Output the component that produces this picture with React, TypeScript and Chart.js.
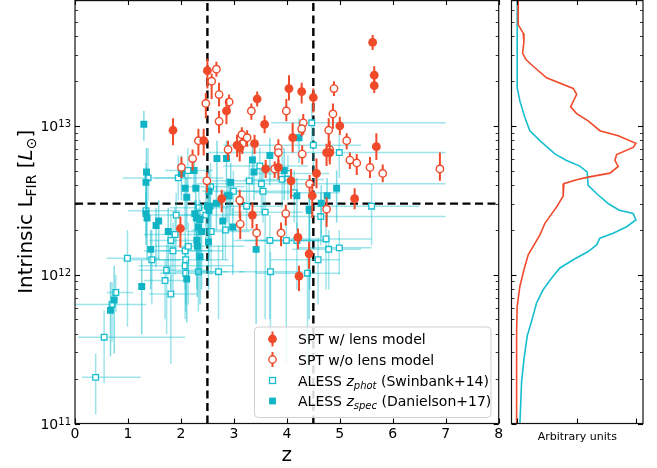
import React, { useEffect, useRef } from 'react';
import { Chart, registerables } from 'chart.js';

Chart.register(...registerables);

// ---------------- data ----------------
const zCuts = [2.5, 4.5];
const lumCut = 3e12;
const xTickValues = [0, 1, 2, 3, 4, 5, 6, 7, 8];
const yDecades = [11, 12, 13];
const sideXTicks = [0, 0.5, 1];

// SPT with lens model (filled red circles), log10 L
const sptLensZ = [2.50, 5.62, 5.65, 5.65, 4.04, 4.28, 1.85, 2.43, 2.86, 3.44, 3.58, 4.50, 5.00, 5.69, 4.11, 4.75, 3.06, 3.11, 3.39, 3.60, 3.84, 4.08, 4.56, 2.77, 5.28, 4.48, 3.35, 1.99, 4.21, 4.42, 4.23, 4.81];
const sptLensLogL = [13.37, 13.56, 13.34, 13.27, 13.25, 13.23, 12.97, 12.90, 13.10, 13.18, 13.01, 13.19, 13.00, 12.86, 12.92, 12.82, 12.87, 12.85, 12.88, 12.71, 12.72, 12.63, 12.68, 12.51, 12.51, 12.53, 12.40, 12.31, 12.25, 12.14, 11.99, 12.82];
const sptLensErrLo = [0.12, 0.05, 0.06, 0.05, 0.08, 0.08, 0.10, 0.10, 0.09, 0.05, 0.06, 0.10, 0.06, 0.09, 0.10, 0.09, 0.08, 0.09, 0.07, 0.06, 0.08, 0.12, 0.10, 0.09, 0.07, 0.15, 0.09, 0.13, 0.08, 0.10, 0.10, 0.08];
const sptLensErrHi = [0.08, 0.05, 0.06, 0.05, 0.09, 0.06, 0.08, 0.08, 0.08, 0.05, 0.06, 0.06, 0.06, 0.09, 0.10, 0.06, 0.07, 0.05, 0.06, 0.06, 0.05, 0.08, 0.10, 0.06, 0.07, 0.08, 0.08, 0.08, 0.06, 0.08, 0.07, 0.05];

// SPT without lens model (open red circles)
const sptNoLensZ = [2.67, 2.58, 4.89, 2.72, 2.91, 2.47, 3.33, 2.72, 3.99, 4.31, 4.28, 4.87, 4.79, 3.15, 3.25, 3.16, 2.33, 2.89, 3.84, 3.84, 4.29, 5.13, 4.81, 5.19, 5.32, 5.57, 5.81, 6.89, 2.22, 2.01, 2.49, 3.77, 3.11, 4.43, 4.75, 3.98, 3.43, 3.89, 3.12];
const sptNoLensLogL = [13.38, 13.30, 13.25, 13.21, 13.16, 13.15, 13.10, 13.03, 13.10, 13.02, 12.98, 13.08, 12.97, 12.94, 12.92, 12.88, 12.90, 12.84, 12.85, 12.82, 12.81, 12.90, 12.84, 12.77, 12.75, 12.72, 12.68, 12.71, 12.78, 12.72, 12.63, 12.71, 12.50, 12.61, 12.44, 12.41, 12.28, 12.28, 12.34];
const sptNoLensErrLo = [0.05, 0.12, 0.05, 0.08, 0.07, 0.10, 0.06, 0.08, 0.07, 0.08, 0.05, 0.10, 0.15, 0.06, 0.06, 0.07, 0.10, 0.07, 0.06, 0.07, 0.07, 0.06, 0.08, 0.06, 0.08, 0.07, 0.06, 0.08, 0.08, 0.07, 0.08, 0.06, 0.12, 0.06, 0.12, 0.08, 0.09, 0.09, 0.10];
const sptNoLensErrHi = [0.05, 0.05, 0.05, 0.08, 0.05, 0.07, 0.05, 0.07, 0.08, 0.06, 0.05, 0.07, 0.08, 0.05, 0.05, 0.06, 0.08, 0.06, 0.06, 0.06, 0.06, 0.05, 0.06, 0.05, 0.06, 0.07, 0.06, 0.11, 0.06, 0.07, 0.06, 0.05, 0.07, 0.06, 0.08, 0.06, 0.06, 0.07, 0.08];

// ALESS z_phot (open cyan squares)
const phZ = [1.38, 1.34, 1.95, 2.13, 1.91, 1.89, 1.81, 1.85, 2.08, 2.14, 2.09, 2.08, 2.09, 1.73, 1.70, 1.81, 2.33, 2.71, 0.99, 0.77, 0.70, 0.55, 0.39, 2.56, 2.47, 2.57, 3.29, 2.99, 3.49, 3.52, 3.55, 3.24, 3.59, 2.84, 3.68, 3.69, 1.45, 4.39, 4.59, 4.79, 4.99, 3.99, 4.19, 4.74, 4.99, 4.02, 3.91, 4.14, 5.60, 4.64, 4.47, 4.50, 2.34];
const phLogL = [12.65, 12.43, 12.65, 12.70, 12.40, 12.27, 12.23, 12.16, 12.16, 12.19, 12.10, 12.06, 12.01, 12.03, 11.96, 11.87, 12.02, 12.02, 12.11, 11.88, 11.80, 11.58, 11.31, 12.59, 12.40, 12.29, 12.63, 12.56, 12.73, 12.61, 12.56, 12.46, 12.42, 12.30, 12.23, 12.02, 12.10, 12.01, 12.10, 12.17, 12.18, 12.23, 12.23, 12.24, 12.82, 12.68, 12.64, 12.55, 12.46, 12.39, 13.02, 12.87, 12.45];
const phZLo = [0.9, 1.0, 1.5, 1.7, 1.4, 1.3, 1.4, 1.3, 1.6, 1.5, 1.5, 1.2, 1.6, 1.2, 1.3, 1.4, 1.9, 2.3, 0.6, 0.6, 0.0, 0.06, 0.13, 2.0, 1.8, 2.1, 2.6, 2.4, 2.8, 2.3, 3.0, 2.7, 3.0, 2.2, 3.0, 3.1, 0.9, 3.4, 3.7, 4.1, 4.2, 3.2, 3.5, 4.0, 2.5, 3.3, 3.2, 3.4, 4.5, 3.9, 3.7, 2.8, 1.8];
const phZHi = [2.2, 2.0, 2.8, 2.6, 2.5, 2.4, 2.3, 2.6, 2.8, 3.2, 2.9, 3.0, 2.7, 2.5, 2.1, 2.3, 2.9, 3.2, 1.6, 1.1, 1.35, 2.08, 1.24, 3.2, 3.5, 3.3, 4.0, 3.6, 4.4, 7.0, 4.1, 3.9, 4.3, 3.5, 4.6, 4.3, 2.0, 5.0, 5.0, 5.4, 5.6, 4.8, 4.8, 5.6, 7.0, 4.8, 4.7, 5.0, 6.5, 7.0, 7.0, 5.4, 2.9];
const phLogLLo = [12.5, 12.25, 12.5, 12.55, 12.2, 12.0, 11.9, 11.85, 11.9, 11.8, 11.75, 11.7, 11.8, 11.6, 11.7, 11.4, 11.75, 11.7, 11.65, 11.75, 11.55, 11.27, 11.06, 12.45, 12.2, 12.0, 12.45, 12.4, 12.55, 12.4, 12.35, 12.3, 11.7, 12.1, 11.7, 11.3, 11.8, 11.3, 11.8, 11.9, 12.0, 11.4, 11.9, 11.9, 12.65, 12.5, 12.45, 12.35, 12.2, 12.2, 12.85, 12.7, 12.3];
const phLogLHi = [12.85, 12.6, 12.8, 12.85, 12.55, 12.45, 12.4, 12.35, 12.3, 12.35, 12.25, 12.2, 12.15, 12.2, 12.1, 12.0, 12.2, 12.2, 12.3, 12.0, 11.95, 11.76, 11.47, 12.75, 12.55, 12.45, 12.75, 12.7, 12.85, 12.75, 12.7, 12.6, 12.55, 12.45, 12.4, 12.15, 12.3, 12.15, 12.25, 12.3, 12.3, 12.35, 12.35, 12.4, 12.95, 12.8, 12.8, 12.7, 12.61, 12.55, 13.15, 13.0, 12.6];

// ALESS z_spec (filled cyan squares)
const spZ = [1.30, 1.35, 1.34, 1.36, 1.34, 1.58, 1.53, 1.76, 1.43, 1.26, 2.01, 2.08, 2.28, 2.11, 2.25, 2.68, 2.86, 2.94, 2.26, 2.29, 2.36, 2.33, 2.39, 2.30, 2.31, 2.36, 2.50, 2.53, 2.55, 2.67, 2.79, 2.98, 2.87, 3.35, 3.38, 3.68, 3.42, 2.11, 2.52, 0.74, 0.67, 4.23, 3.95, 4.19, 4.76, 4.94, 4.65, 4.42, 4.43, 2.53, 2.91];
const spLogL = [13.01, 12.69, 12.62, 12.38, 12.41, 12.36, 12.33, 12.29, 12.17, 11.92, 12.68, 12.58, 12.58, 12.52, 12.70, 12.78, 12.78, 12.62, 12.41, 12.38, 12.37, 12.32, 12.29, 12.23, 12.19, 12.12, 12.46, 12.43, 12.46, 12.48, 12.36, 12.32, 12.53, 12.77, 12.69, 12.80, 12.17, 11.97, 12.22, 11.83, 11.76, 12.92, 12.70, 12.53, 12.53, 12.58, 12.48, 12.44, 12.43, 12.56, 12.53];
const spLogLLo = [12.9, 12.4, 12.4, 12.1, 12.2, 12.1, 12.05, 12.0, 11.9, 11.6, 12.5, 12.3, 12.4, 12.3, 12.55, 12.55, 12.6, 12.4, 12.2, 12.1, 12.0, 12.0, 11.9, 11.9, 11.85, 11.8, 12.25, 12.1, 12.2, 12.3, 12.1, 12.0, 12.35, 12.6, 12.5, 12.6, 11.67, 11.68, 11.9, 11.47, 11.45, 12.75, 12.5, 12.3, 12.35, 12.35, 12.25, 11.7, 11.9, 12.35, 12.3];
const spLogLHi = [13.1, 12.85, 12.75, 12.5, 12.55, 12.5, 12.45, 12.45, 12.3, 12.1, 12.8, 12.7, 12.7, 12.65, 12.8, 12.9, 12.9, 12.75, 12.5, 12.5, 12.5, 12.45, 12.4, 12.35, 12.3, 12.25, 12.6, 12.55, 12.6, 12.6, 12.5, 12.45, 12.65, 12.9, 12.8, 12.92, 12.3, 12.1, 12.35, 12.06, 11.95, 13.05, 12.85, 12.65, 12.65, 12.7, 12.6, 12.55, 12.55, 12.7, 12.65];

// Side panel distributions (arbitrary units vs log10 L)
const sptDensity = [0.005, 0.007, 0.049, 0.055, 0.044, 0.072, 0.133, 0.246, 0.471, 0.50, 0.449, 0.50, 0.597, 0.696, 0.851, 1.0, 0.977, 0.837, 0.823, 0.851, 0.781, 0.597, 0.50, 0.392, 0.386, 0.331, 0.232, 0.19, 0.091, 0.055, 0.021, -0.002, -0.007, -0.007];
const sptDensityLogL = [13.84, 13.678, 13.622, 13.567, 13.489, 13.445, 13.40, 13.322, 13.251, 13.211, 13.127, 13.082, 13.033, 12.967, 12.933, 12.882, 12.855, 12.807, 12.767, 12.727, 12.682, 12.655, 12.638, 12.611, 12.527, 12.455, 12.345, 12.267, 12.133, 12.033, 11.922, 11.789, 11.613, 11.0];
const alessDensity = [-0.002, -0.002, 0.021, 0.063, 0.105, 0.19, 0.316, 0.415, 0.527, 0.589, 0.597, 0.668, 0.766, 0.859, 0.977, 1.0, 0.922, 0.808, 0.696, 0.668, 0.597, 0.471, 0.359, 0.289, 0.218, 0.162, 0.12, 0.083, 0.055, 0.035, 0.021];
const alessDensityLogL = [13.84, 13.255, 13.167, 13.055, 12.967, 12.90, 12.811, 12.767, 12.729, 12.689, 12.60, 12.545, 12.478, 12.433, 12.411, 12.367, 12.322, 12.278, 12.245, 12.20, 12.155, 12.10, 12.045, 11.978, 11.90, 11.811, 11.689, 11.589, 11.433, 11.278, 11.0];

// ---------------- styles ----------------
const RED = '#f04a2a';
const CYAN = '#17becf';
const CYAN_FILL = '#10b4c5';
const FONT = '"DejaVu Sans", sans-serif';

const lensPoints = sptLensZ.map((z, i) => ({ x: z, y: 10 ** sptLensLogL[i], yMin: 10 ** (sptLensLogL[i] - sptLensErrLo[i]), yMax: 10 ** (sptLensLogL[i] + sptLensErrHi[i]) }));
const noLensPoints = sptNoLensZ.map((z, i) => ({ x: z, y: 10 ** sptNoLensLogL[i], yMin: 10 ** (sptNoLensLogL[i] - sptNoLensErrLo[i]), yMax: 10 ** (sptNoLensLogL[i] + sptNoLensErrHi[i]) }));
const photPoints = phZ.map((z, i) => ({ x: z, y: 10 ** phLogL[i], xMin: phZLo[i], xMax: phZHi[i], yMin: 10 ** phLogLLo[i], yMax: 10 ** phLogLHi[i] }));
const specPoints = spZ.map((z, i) => ({ x: z, y: 10 ** spLogL[i], yMin: 10 ** spLogLLo[i], yMax: 10 ** spLogLHi[i] }));
const sptCurve = sptDensity.map((d, i) => ({ x: d, y: 10 ** sptDensityLogL[i] }));
const alessCurve = alessDensity.map((d, i) => ({ x: d, y: 10 ** alessDensityLogL[i] }));

function line(ctx: any, x1: number, y1: number, x2: number, y2: number) {
  ctx.beginPath();
  ctx.moveTo(x1, y1);
  ctx.lineTo(x2, y2);
  ctx.stroke();
}

function clipArea(ctx: any, a: any) {
  ctx.beginPath();
  ctx.rect(a.left, a.top, a.right - a.left, a.bottom - a.top);
  ctx.clip();
}

const errorBarPlugin = {
  id: 'errorBars',
  beforeDatasetDraw(chart: any, args: any) {
    const ds = chart.data.datasets[args.index];
    if (!ds.errColor) return;
    const { ctx, chartArea: a } = chart;
    const xs = chart.scales.x, ys = chart.scales.y;
    ctx.save();
    clipArea(ctx, a);
    ctx.strokeStyle = ds.errColor;
    ctx.lineWidth = ds.errWidth;
    for (const p of ds.data) {
      const px = xs.getPixelForValue(p.x), py = ys.getPixelForValue(p.y);
      if (p.xMin !== undefined) line(ctx, xs.getPixelForValue(p.xMin), py, xs.getPixelForValue(p.xMax), py);
      if (p.yMin !== undefined) line(ctx, px, ys.getPixelForValue(p.yMin), px, ys.getPixelForValue(p.yMax));
    }
    ctx.restore();
  },
};

function drawYTicks(ctx: any, a: any, ys: any) {
  ctx.strokeStyle = '#000';
  for (let e = 10; e <= 13; e++) {
    for (let k = 1; k <= 9; k++) {
      const v = k * 10 ** e;
      if (v < ys.min * 0.999 || v > ys.max) continue;
      const y = Math.round(ys.getPixelForValue(v)) + 0.5;
      const len = k === 1 ? 5 : 3;
      ctx.lineWidth = k === 1 ? 1.1 : 0.8;
      line(ctx, a.left, y, a.left + len, y);
      line(ctx, a.right, y, a.right - len, y);
    }
  }
}

function drawFrame(ctx: any, a: any) {
  ctx.strokeStyle = '#111';
  ctx.lineWidth = 1.2;
  ctx.strokeRect(a.left, a.top + 0.6, a.right - a.left, a.bottom - a.top - 0.6);
}

function drawPow(ctx: any, exp: number, xRight: number, y: number) {
  const base = '10', sup = String(exp);
  ctx.textAlign = 'left';
  ctx.textBaseline = 'alphabetic';
  ctx.font = `14px ${FONT}`;
  const wb = ctx.measureText(base).width;
  ctx.font = `10px ${FONT}`;
  const ws = ctx.measureText(sup).width;
  const x0 = xRight - wb - ws;
  ctx.font = `14px ${FONT}`;
  ctx.fillText(base, x0, y + 5.5);
  ctx.font = `10px ${FONT}`;
  ctx.fillText(sup, x0 + wb, y + 1);
}

function drawRich(ctx: any, segs: any[], x: number, y: number) {
  let cx = x;
  for (const s of segs) {
    ctx.font = s.f;
    ctx.fillText(s.t, cx, y + (s.dy || 0));
    cx += ctx.measureText(s.t).width;
  }
  return cx - x;
}

function richWidth(ctx: any, segs: any[]) {
  let w = 0;
  for (const s of segs) {
    ctx.font = s.f;
    w += ctx.measureText(s.t).width;
  }
  return w;
}

function drawYTitle(ctx: any, x: number, yc: number) {
  const segs = [
    { t: 'Intrinsic L', f: `20px ${FONT}` },
    { t: 'FIR', f: `14px ${FONT}`, dy: 4 },
    { t: ' [', f: `20px ${FONT}` },
    { t: 'L', f: `italic 20px ${FONT}` },
    { t: '\u2299', f: `14px ${FONT}`, dy: 4 },
    { t: ']', f: `20px ${FONT}` },
  ];
  ctx.save();
  ctx.translate(x, yc);
  ctx.rotate(-Math.PI / 2);
  ctx.textAlign = 'left';
  ctx.textBaseline = 'alphabetic';
  ctx.fillStyle = '#000';
  const w = richWidth(ctx, segs);
  drawRich(ctx, segs, -w / 2, 0);
  ctx.restore();
}

function roundRectPath(ctx: any, x: number, y: number, w: number, h: number, r: number) {
  ctx.beginPath();
  ctx.moveTo(x + r, y);
  ctx.lineTo(x + w - r, y);
  ctx.arcTo(x + w, y, x + w, y + r, r);
  ctx.lineTo(x + w, y + h - r);
  ctx.arcTo(x + w, y + h, x + w - r, y + h, r);
  ctx.lineTo(x + r, y + h);
  ctx.arcTo(x, y + h, x, y + h - r, r);
  ctx.lineTo(x, y + r);
  ctx.arcTo(x, y, x + r, y, r);
  ctx.closePath();
}

function drawLegend(ctx: any) {
  const L = 254.5, T = 327, R = 491, B = 417.5;
  roundRectPath(ctx, L, T, R - L, B - T, 4);
  ctx.fillStyle = 'rgba(255,255,255,0.85)';
  ctx.fill();
  ctx.strokeStyle = '#cfcfcf';
  ctx.lineWidth = 1;
  ctx.stroke();
  const mx = 272.5, tx = 298;
  const rows = [339, 359.5, 380.5, 401];
  ctx.strokeStyle = RED;
  ctx.lineWidth = 2;
  line(ctx, mx, rows[0] - 7.5, mx, rows[0] + 7.5);
  ctx.fillStyle = RED;
  ctx.beginPath(); ctx.arc(mx, rows[0], 4.4, 0, Math.PI * 2); ctx.fill();
  line(ctx, mx, rows[1] - 7.5, mx, rows[1] + 7.5);
  ctx.fillStyle = '#fff';
  ctx.lineWidth = 1.4;
  ctx.beginPath(); ctx.arc(mx, rows[1], 3.7, 0, Math.PI * 2); ctx.fill(); ctx.stroke();
  ctx.strokeStyle = CYAN;
  ctx.lineWidth = 1.3;
  ctx.fillStyle = '#fff';
  ctx.fillRect(mx - 3, rows[2] - 3, 6, 6);
  ctx.strokeRect(mx - 3, rows[2] - 3, 6, 6);
  ctx.fillStyle = CYAN_FILL;
  ctx.fillRect(mx - 3.4, rows[3] - 3.4, 6.8, 6.8);
  ctx.fillStyle = '#000';
  ctx.textAlign = 'left';
  ctx.textBaseline = 'alphabetic';
  const nf = `14px ${FONT}`;
  drawRich(ctx, [{ t: 'SPT w/ lens model', f: nf }], tx, rows[0] + 5);
  drawRich(ctx, [{ t: 'SPT w/o lens model', f: nf }], tx, rows[1] + 5);
  drawRich(ctx, [
    { t: 'ALESS ', f: nf },
    { t: 'z', f: `italic 14px ${FONT}` },
    { t: 'phot', f: `italic 10px ${FONT}`, dy: 3 },
    { t: ' (Swinbank+14)', f: nf },
  ], tx, rows[2] + 5);
  drawRich(ctx, [
    { t: 'ALESS ', f: nf },
    { t: 'z', f: `italic 14px ${FONT}` },
    { t: 'spec', f: `italic 10px ${FONT}`, dy: 3 },
    { t: ' (Danielson+17)', f: nf },
  ], tx, rows[3] + 5);
}

const mainDecor = {
  id: 'mainDecor',
  beforeDatasetsDraw(chart: any) {
    const { ctx, chartArea: a } = chart;
    const xs = chart.scales.x, ys = chart.scales.y;
    ctx.save();
    clipArea(ctx, a);
    ctx.strokeStyle = '#000';
    ctx.lineWidth = 2.4;
    ctx.setLineDash([8, 4.5]);
    for (const z of zCuts) {
      const x = xs.getPixelForValue(z);
      line(ctx, x, a.bottom, x, a.top);
    }
    const y = ys.getPixelForValue(lumCut);
    line(ctx, a.left, y, a.right, y);
    ctx.restore();
  },
  afterDraw(chart: any) {
    const { ctx, chartArea: a } = chart;
    const xs = chart.scales.x, ys = chart.scales.y;
    ctx.save();
    drawYTicks(ctx, a, ys);
    ctx.strokeStyle = '#000';
    ctx.lineWidth = 1.1;
    for (const t of xTickValues) {
      const x = Math.round(xs.getPixelForValue(t)) + 0.5;
      line(ctx, x, a.bottom, x, a.bottom - 5);
      line(ctx, x, a.top, x, a.top + 5);
    }
    drawFrame(ctx, a);
    ctx.fillStyle = '#000';
    ctx.font = `14px ${FONT}`;
    ctx.textAlign = 'center';
    ctx.textBaseline = 'alphabetic';
    for (const t of xTickValues) ctx.fillText(String(t), xs.getPixelForValue(t), a.bottom + 14.5);
    for (const e of yDecades) drawPow(ctx, e, a.left - 4, ys.getPixelForValue(10 ** e));
    ctx.font = `20px ${FONT}`;
    ctx.textAlign = 'center';
    ctx.fillText('z', (a.left + a.right) / 2, 461);
    drawYTitle(ctx, 32, (a.top + a.bottom) / 2);
    drawLegend(ctx);
    ctx.restore();
  },
};

const sideDecor = {
  id: 'sideDecor',
  afterDraw(chart: any) {
    const { ctx, chartArea: a } = chart;
    const xs = chart.scales.x, ys = chart.scales.y;
    ctx.save();
    drawYTicks(ctx, a, ys);
    ctx.strokeStyle = '#000';
    ctx.lineWidth = 1.1;
    for (const t of sideXTicks) {
      const x = Math.round(xs.getPixelForValue(t)) + 0.5;
      line(ctx, x, a.bottom, x, a.bottom - 5);
      line(ctx, x, a.top, x, a.top + 5);
    }
    drawFrame(ctx, a);
    ctx.fillStyle = '#000';
    ctx.font = `11px ${FONT}`;
    ctx.textAlign = 'center';
    ctx.textBaseline = 'alphabetic';
    ctx.fillText('Arbitrary units', (a.left + a.right) / 2, 440);
    ctx.restore();
  },
};

function mainConfig(): any {
  return {
    type: 'scatter',
    data: {
      datasets: [
        {
          label: 'SPT w/ lens model', data: lensPoints, pointStyle: 'circle', pointRadius: 4.4,
          backgroundColor: RED, borderColor: RED, borderWidth: 0, errColor: RED, errWidth: 2,
        },
        {
          label: 'SPT w/o lens model', data: noLensPoints, pointStyle: 'circle', pointRadius: 3.7,
          backgroundColor: '#ffffff', borderColor: RED, borderWidth: 1.4, errColor: RED, errWidth: 2,
        },
        {
          label: 'ALESS zspec (Danielson+17)', data: specPoints, pointStyle: 'rect', pointRadius: 4.9,
          backgroundColor: CYAN_FILL, borderColor: CYAN_FILL, borderWidth: 0,
          errColor: 'rgba(23,190,207,0.55)', errWidth: 1.5,
        },
        {
          label: 'ALESS zphot (Swinbank+14)', data: photPoints, pointStyle: 'rect', pointRadius: 4.0,
          backgroundColor: '#ffffff', borderColor: CYAN, borderWidth: 1.3,
          errColor: 'rgba(23,190,207,0.42)', errWidth: 1.5,
        },
      ],
    },
    options: {
      animation: false,
      responsive: false,
      maintainAspectRatio: false,
      events: [],
      layout: { autoPadding: false, padding: { left: 75, right: 6.3, top: 0, bottom: 44.5 } },
      scales: {
        x: { type: 'linear', min: 0, max: 8, display: false },
        y: { type: 'logarithmic', min: 1e11, max: 7e13, display: false },
      },
      plugins: { legend: { display: false }, tooltip: { enabled: false } },
    },
    plugins: [errorBarPlugin, mainDecor],
  };
}

function sideConfig(): any {
  return {
    type: 'scatter',
    data: {
      datasets: [
        { data: sptCurve, showLine: true, borderColor: RED, borderWidth: 1.6, pointRadius: 0, fill: false, tension: 0 },
        { data: alessCurve, showLine: true, borderColor: CYAN, borderWidth: 1.6, pointRadius: 0, fill: false, tension: 0 },
      ],
    },
    options: {
      animation: false,
      responsive: false,
      maintainAspectRatio: false,
      events: [],
      layout: { autoPadding: false, padding: { left: 6.5, right: 14, top: 0, bottom: 44.5 } },
      scales: {
        x: { type: 'linear', min: -0.05, max: 1.06, display: false },
        y: { type: 'logarithmic', min: 1e11, max: 7e13, display: false },
      },
      plugins: { legend: { display: false }, tooltip: { enabled: false } },
    },
    plugins: [sideDecor],
  };
}

export default function App() {
  const mainRef = useRef<HTMLCanvasElement>(null);
  const sideRef = useRef<HTMLCanvasElement>(null);
  useEffect(() => {
    const c1 = new Chart(mainRef.current as HTMLCanvasElement, mainConfig());
    const c2 = new Chart(sideRef.current as HTMLCanvasElement, sideConfig());
    return () => {
      c1.destroy();
      c2.destroy();
    };
  }, []);
  return (
    <div style={{ position: 'absolute', left: 0, top: 0, width: 657, height: 468, background: '#fff' }}>
      <canvas ref={mainRef} width={505} height={468} style={{ position: 'absolute', left: 0, top: 0, width: 505, height: 468 }} />
      <canvas ref={sideRef} width={152} height={468} style={{ position: 'absolute', left: 505, top: 0, width: 152, height: 468 }} />
    </div>
  );
}
